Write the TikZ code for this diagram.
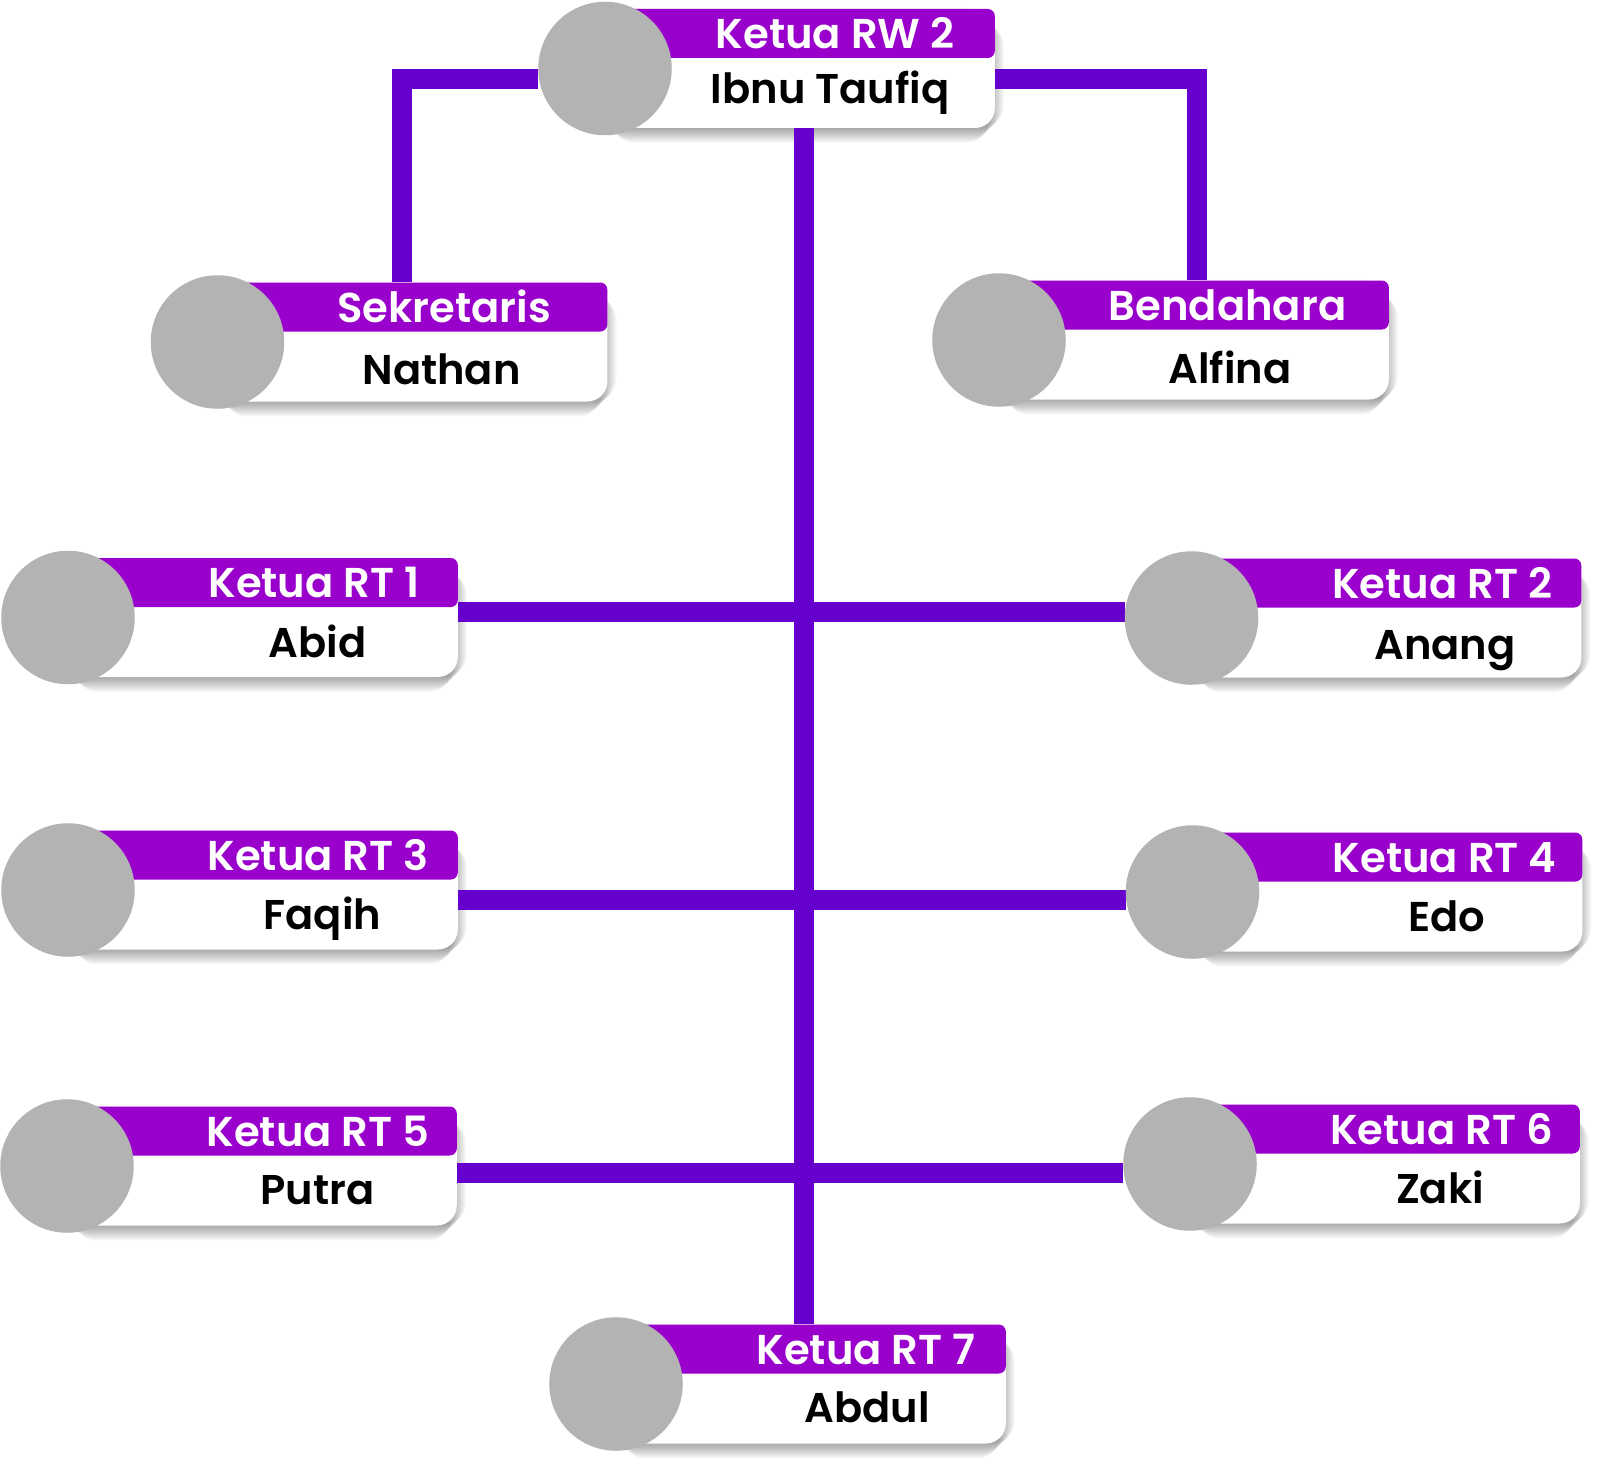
\documentclass[tikz,border=0pt]{standalone}
\usepackage{fontspec}
\setmainfont{Poppins}
\newfontfamily\namefont{Poppins SemiBold}
\usetikzlibrary{backgrounds}

\definecolor{headpurple}{HTML}{9900CC}
\definecolor{linkpurple}{HTML}{6600CC}
\definecolor{photogray}{HTML}{B3B3B3}

\tikzset{
  link/.style = {draw=linkpurple, line width=20pt},
  photo/.style = {circle, fill=photogray, minimum size=133.5pt, inner sep=0pt},
  card/.style = {fill=white, rounded corners=20pt, minimum width=390pt, minimum height=119pt, inner sep=0pt},
  head/.style = {fill=headpurple, rounded corners=7pt, minimum width=390pt, minimum height=49pt, inner sep=0pt},
  titletext/.style = {anchor=base, inner sep=0pt, text=white, font=\namefont\fontsize{41.7}{42}\selectfont},
  nametext/.style = {anchor=base, inner sep=0pt, text=black, font=\namefont\fontsize{41.6}{42}\selectfont}
}

% id, circle x, circle y, title x, title, name x, name baseline, name
\newcommand{\staff}[8]{
  \node[card, anchor=east] (card#1) at ([xshift=390pt]#2,#3) {};
  \node[head, anchor=north east] (head#1) at (card#1.north east) {};
  \node[photo] (photo#1) at (#2,#3) {};
  \node[titletext] (title#1) at ([yshift=20pt]#4,#3) {#5};
  \node[nametext] (name#1) at (#6,#7) {#8};
  \begin{pgfonlayer}{background}
    \foreach \k in {-8,-7,...,8} {
      \fill[black, fill opacity=0.024, rounded corners=22pt]
        ([shift={(-\k pt,-7pt+\k pt)}]card#1.south west)
        rectangle ([shift={(1pt+\k pt,-7pt-\k pt)}]card#1.north east);
    }
  \end{pgfonlayer}
}

\begin{document}
\begin{tikzpicture}[x=1pt, y=-1pt]
  \useasboundingbox (0,0) rectangle (1602,1471);
  \begin{pgfonlayer}{background}
    \fill[white] (0,0) rectangle (1602,1471);
  \end{pgfonlayer}

  \staff{RW}{605}{68.5}{835}{Ketua RW 2}{830}{104}{Ibnu Taufiq}
  \staff{Sek}{217.5}{342}{444}{Sekretaris}{441.5}{384}{Nathan}
  \staff{Ben}{999}{340}{1227.5}{Bendahara}{1230}{383.5}{Alfina}
  \staff{A}{68}{617.5}{314}{Ketua RT 1}{317.5}{657}{Abid}
  \staff{B}{1191.5}{618}{1442}{Ketua RT 2}{1445}{659}{Anang}
  \staff{C}{68}{890}{318}{Ketua RT 3}{322.5}{929}{Faqih}
  \staff{D}{1192.5}{892}{1444.5}{Ketua RT 4}{1446.5}{931}{Edo}
  \staff{E}{67}{1166}{318}{Ketua RT 5}{317.5}{1204.5}{Putra}
  \staff{F}{1190}{1164}{1441.5}{Ketua RT 6}{1440}{1203}{Zaki}
  \staff{G}{616}{1384}{866}{Ketua RT 7}{867}{1422}{Abdul}

  \coordinate (cornerL) at (402,79);
  \coordinate (cornerR) at (1197,79);
  \coordinate (hubA) at (804,612);
  \coordinate (hubB) at (804,900);
  \coordinate (hubC) at (804,1173);

  \begin{pgfonlayer}{background}
    \draw[link] (photoRW.west |- cornerL) -- (cornerL) -- (cornerL |- headSek.north);
    \draw[link] (cardRW.east |- cornerR) -- (cornerR) -- (cornerR |- headBen.north);
    \draw[link] (hubA |- cardRW.south) -- (hubA |- headG.north);
    \draw[link] (cardA.east |- hubA) -- (photoB.west |- hubA);
    \draw[link] (cardC.east |- hubB) -- (photoD.west |- hubB);
    \draw[link] (cardE.east |- hubC) -- (photoF.west |- hubC);
  \end{pgfonlayer}
\end{tikzpicture}
\end{document}
